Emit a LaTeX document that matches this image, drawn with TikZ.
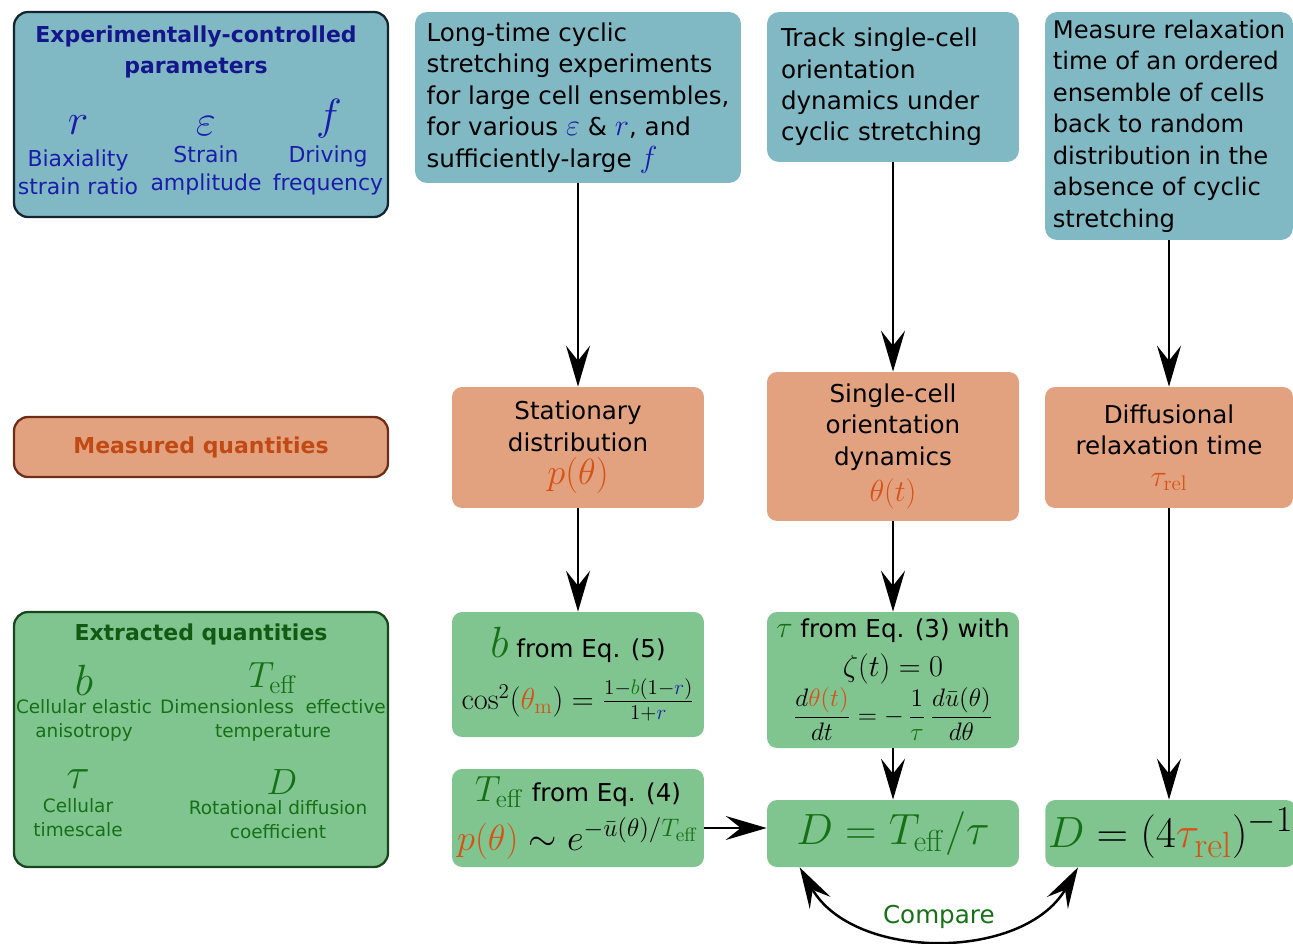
\documentclass[tikz,border=0pt]{standalone}
\usepackage{amsmath}
\usepackage[no-math]{fontspec}
\setmainfont{DejaVu Sans}
\usepackage{xcolor}
\usepackage{tikz}
\usetikzlibrary{arrows.meta}

\definecolor{expfill}{RGB}{128,185,196}
\definecolor{measfill}{RGB}{227,162,127}
\definecolor{extrfill}{RGB}{128,196,143}
\definecolor{navy}{RGB}{22,22,140}
\definecolor{parblue}{RGB}{28,28,170}
\definecolor{qorange}{RGB}{214,82,22}
\definecolor{qgreen}{RGB}{22,112,22}
\definecolor{measedge}{RGB}{110,45,20}
\definecolor{extredge}{RGB}{25,70,30}
\definecolor{paramedge}{RGB}{20,35,50}

\newcommand{\boxfont}{\fontsize{14}{17.9}\selectfont}
\newcommand{\legtitle}{\bfseries\fontsize{12.5}{17.5}\selectfont}
\newcommand{\parlabel}{\fontsize{12.5}{15.9}\selectfont}
\newcommand{\extlabel}{\fontsize{10.5}{13.6}\selectfont}
\newcommand{\qg}[1]{{\color{qgreen}#1}}
\newcommand{\qo}[1]{{\color{qorange}#1}}
\newcommand{\qb}[1]{{\color{parblue}#1}}

\tikzstyle{expbox}=[rectangle, rounded corners=0.24cm, fill=expfill, align=left, font=\boxfont]
\tikzstyle{measbox}=[rectangle, rounded corners=0.2cm, fill=measfill, align=center,
        font=\boxfont, minimum width=5.04cm]
\tikzstyle{extrbox}=[rectangle, rounded corners=0.2cm, fill=extrfill, align=center,
        font=\boxfont, minimum width=5.04cm, inner sep=0.05cm]
\tikzstyle{legendbox}=[rectangle, rounded corners=0.28cm, line width=1.3pt, minimum width=7.48cm]
\tikzstyle{legendlabel}=[align=center, inner sep=0pt]
\tikzstyle{myarrow}=[-{Stealth[length=0.82cm, width=0.48cm, inset=0.3cm]}, line width=1.4pt]
\tikzstyle{cmparrow}=[{Stealth[length=0.82cm, width=0.48cm, inset=0.3cm]}-{Stealth[length=0.82cm, width=0.48cm, inset=0.3cm]}, line width=1.4pt]

\begin{document}
\begin{tikzpicture}[x=0.02cm, y=-0.02cm]
    \useasboundingbox (0,0) rectangle (1293,943);

    % legend column
    \node (Params) [legendbox, draw=paramedge, fill=expfill, minimum height=4.1cm] at (201,114.5) {};
    \node (ParamsTitle) [legendlabel, font=\legtitle, text=navy] at (196,52)
        {Experimentally-controlled\\parameters};
    \node (rSym) [legendlabel, text=parblue, font=\fontsize{27}{27}\selectfont] at (78,125) {$r$};
    \node (epsSym) [legendlabel, text=parblue, font=\fontsize{27}{27}\selectfont] at (206,126) {$\varepsilon$};
    \node (fSym) [legendlabel, text=parblue, font=\fontsize{27}{27}\selectfont] at (329,119) {$f$};
    \node (rLab) [legendlabel, text=parblue, font=\parlabel] at (78,172) {Biaxiality\\strain ratio};
    \node (epsLab) [legendlabel, text=parblue, font=\parlabel] at (206,170) {Strain\\amplitude};
    \node (fLab) [legendlabel, text=parblue, font=\parlabel] at (328,170) {Driving\\frequency};

    \node (Measured) [legendbox, draw=measedge, fill=measfill, minimum height=1.2cm,
        font=\legtitle, text=qorange!90!black] at (201,447) {Measured quantities};

    \node (Extracted) [legendbox, draw=extredge, fill=extrfill, minimum height=5.1cm] at (201,739.5) {};
    \node (ExtrTitle) [legendlabel, font=\legtitle, text=qgreen!80!black] at (201,634) {Extracted quantities};
    \node (bSym) [legendlabel, text=qgreen, font=\fontsize{23}{23}\selectfont] at (84,680) {$b$};
    \node (TSym) [legendlabel, text=qgreen, font=\fontsize{20}{20}\selectfont] at (273,678) {$T_{\mathrm{eff}}$};
    \node (tauSym) [legendlabel, text=qgreen, font=\fontsize{23}{23}\selectfont] at (78,779) {$\tau$};
    \node (DSym) [legendlabel, text=qgreen, font=\fontsize{21}{21}\selectfont] at (282,782) {$D$};
    \node (bLab) [legendlabel, text=qgreen, font=\extlabel] at (84,720) {Cellular elastic\\anisotropy};
    \node (TLab) [legendlabel, text=qgreen, font=\extlabel] at (273,720) {Dimensionless\ \ effective\\temperature};
    \node (tauLab) [legendlabel, text=qgreen, font=\extlabel] at (78,818) {Cellular\\timescale};
    \node (DLab) [legendlabel, text=qgreen, font=\extlabel] at (278,820) {Rotational diffusion\\coefficient};

    % experiments
    \node (LongTime) [expbox, minimum width=6.52cm, minimum height=3.42cm, inner sep=0.1cm] at (578,97.5)
        {Long-time cyclic\\stretching experiments\\for large cell ensembles,\\for various
         {\fontsize{17}{17}\selectfont\smash{$\qb{\varepsilon}$}} \&
         {\fontsize{19}{18}\selectfont\smash{$\qb{r}$}}, and\\sufficiently-large
         {\fontsize{17}{17}\selectfont\smash{$\qb{f}$}}};
    \node (Track) [expbox, text width=4.48cm, minimum height=3.0cm, inner sep=0.28cm] at (893,87)
        {Track single-cell\\orientation\\dynamics under\\cyclic stretching};
    \node (Relax) [expbox, minimum width=4.96cm, minimum height=4.56cm, inner sep=0.02cm,
        font=\fontsize{13.8}{17.9}\selectfont] at (1169,126)
        {Measure relaxation\\time of an ordered\\ensemble of cells\\back to random\\distribution in the\\absence of cyclic\\stretching};

    % measured
    \node (Stationary) [measbox, minimum height=2.42cm] at (578,447.5)
        {Stationary\\distribution\\[1pt]{\fontsize{22}{22}\selectfont$\qo{p(\theta)}$}};
    \node (SingleCell) [measbox, minimum height=2.98cm] at (893,446.5)
        {Single-cell\\orientation\\dynamics\\[3pt]{\fontsize{19}{20}\selectfont$\qo{\theta(t)}$}};
    \node (Diffusional) [measbox, minimum width=4.96cm, minimum height=2.42cm] at (1169,447.5)
        {Diffusional\\relaxation time\\{\fontsize{18}{18}\selectfont$\qo{\tau_{\mathrm{rel}}}$}};

    % extracted
    \node (bEq) [extrbox, minimum height=2.5cm, inner sep=0.02cm] at (578,674.5)
        {{\fontsize{27}{27}\selectfont$\qg{b}$} from Eq. (5)\\[8pt]
         {\fontsize{18.8}{18}\selectfont$\cos^2(\qo{\theta_{\mathrm{m}}}) = \frac{1-\qg{b}(1-\qb{r})}{1+\qb{r}}$}};
    \node (tauEq) [extrbox, minimum height=2.72cm, inner sep=0.02cm] at (893,680)
        {{\fontsize{19}{19}\selectfont$\qg{\tau}$} from Eq. (3) with\\[4pt]
         {\fontsize{18}{18}\selectfont$\zeta(t)=0$}\\[1pt]
         {\fontsize{15.2}{15}\selectfont$\displaystyle\frac{d\qo{\theta(t)}}{dt} = -\,\frac{1}{\qg{\tau}}\,\frac{d\bar{u}(\theta)}{d\theta}$}};
    \node (TeffEq) [extrbox, minimum height=1.96cm] at (578,818)
        {{\fontsize{20}{20}\selectfont$\qg{T_{\mathrm{eff}}}$} from Eq. (4)\\[5pt]
         {\fontsize{21}{21}\selectfont$\qo{p(\theta)} \sim e^{-\bar{u}(\theta)/\qg{T_{\mathrm{eff}}}}$}};
    \node (DTeff) [extrbox, minimum height=1.34cm, font=\fontsize{26}{26}\selectfont] at (893,833.5)
        {$\qg{D = T_{\mathrm{eff}}/\tau}$};
    \node (DRel) [extrbox, anchor=west, minimum width=4.96cm, minimum height=1.34cm,
        font=\fontsize{27.5}{27}\selectfont] at (1045,833.5)
        {$\qg{D} = (4\qo{\tau_{\mathrm{rel}}})^{-1}$};
    \coordinate (TeffOut) at ([yshift=-0.2cm]TeffEq.east);

    \draw[myarrow] (LongTime.south) -- (Stationary.north);
    \draw[myarrow] (Track.south) -- (SingleCell.north);
    \draw[myarrow] (Relax.south) -- (Diffusional.north);
    \draw[myarrow] (Stationary.south) -- (bEq.north);
    \draw[myarrow] (SingleCell.south) -- (tauEq.north);
    \draw[myarrow] (tauEq.south) -- (DTeff.north);
    \draw[myarrow] (Diffusional.south) -- (DRel.north -| Diffusional.south);
    \draw[myarrow] (TeffOut) -- (TeffOut -| DTeff.west);
    \draw[cmparrow] ([xshift=0.66cm]DTeff.south west) to[out=-60, in=-120]
        node[above=0.05cm, text=qgreen, font=\fontsize{14}{14}\selectfont] (Compare) {Compare}
        ([xshift=0.66cm]DRel.south west);
\end{tikzpicture}
\end{document}
